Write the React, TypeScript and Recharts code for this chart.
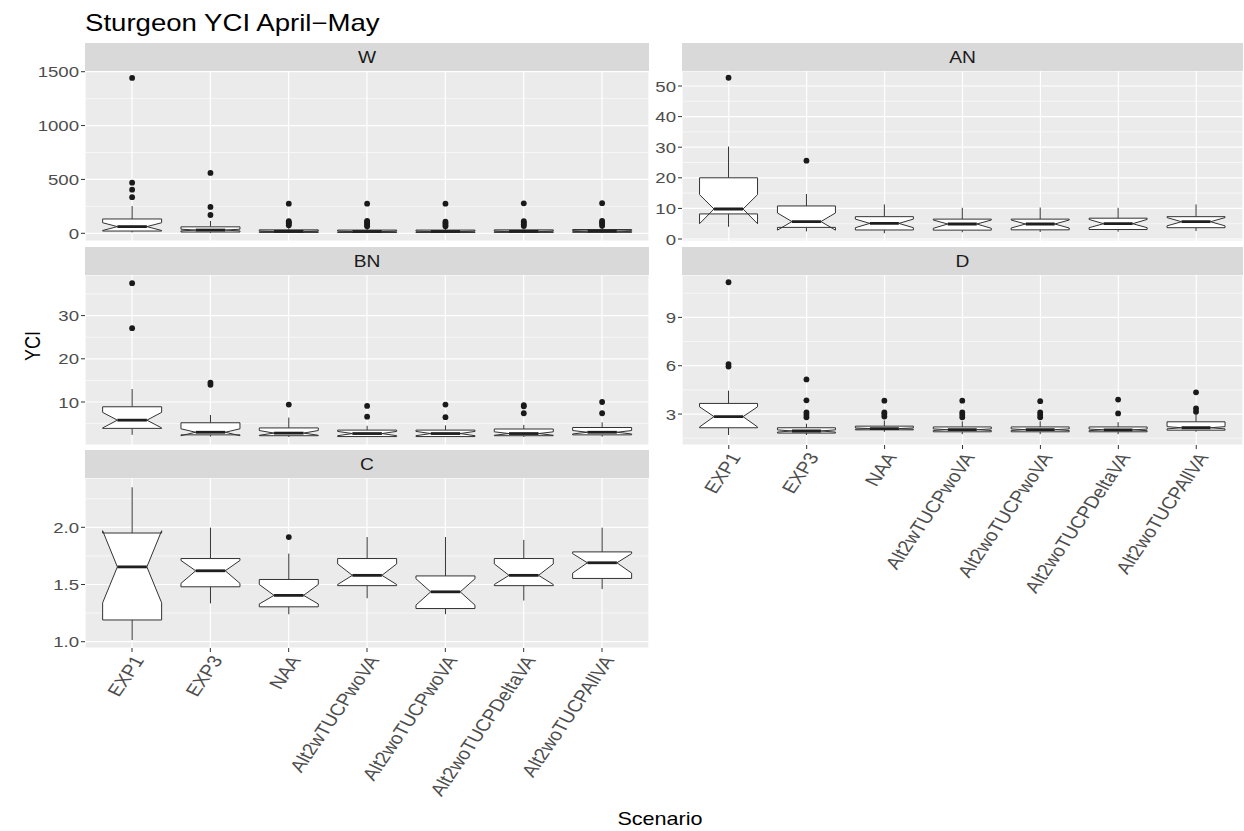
import React from 'react';
import { ComposedChart, Bar, XAxis, YAxis, CartesianGrid } from 'recharts';

const categories = ['EXP1', 'EXP3', 'NAA', 'Alt2wTUCPwoVA', 'Alt2woTUCPwoVA', 'Alt2woTUCPDeltaVA', 'Alt2woTUCPAllVA'];

// stats per category: [lowerWhisker, q1, notchLow, median, notchHigh, q3, upperWhisker]
const statsW = [
  [8, 21, 26, 62, 98, 133, 253],
  [4, 12, 22, 30, 38, 60, 115],
  [3, 8, 14, 18, 22, 32, 55],
  [3, 7, 13, 17, 21, 30, 52],
  [3, 7, 13, 17, 21, 30, 52],
  [3, 8, 14, 18, 22, 32, 55],
  [3, 9, 15, 20, 25, 35, 60],
];
const outliersW = [
  [335, 405, 470, 1442],
  [170, 245, 560],
  [75, 90, 100, 112, 275],
  [65, 78, 92, 105, 115, 275],
  [65, 80, 95, 108, 275],
  [68, 85, 100, 112, 278],
  [70, 88, 102, 115, 280],
];

const statsAN = [
  [4, 8.2, 5.0, 9.8, 14.5, 20, 30.2],
  [2.5, 3.8, 2.9, 5.7, 8.5, 10.8, 14.7],
  [1.9, 2.95, 3.7, 5.1, 6.5, 7.3, 11.3],
  [2.2, 2.9, 3.5, 4.9, 6.2, 6.5, 10.2],
  [2.3, 3.0, 3.6, 4.9, 6.2, 6.5, 10.3],
  [2.4, 3.1, 3.7, 5.0, 6.4, 6.8, 10.2],
  [2.6, 3.7, 4.3, 5.65, 7.0, 7.3, 11.3],
];
const outliersAN = [[52.7], [25.6], [], [], [], [], []];

const statsBN = [
  [2.4, 3.9, 4.0, 5.8, 7.6, 8.9, 13.0],
  [2.0, 2.4, 2.2, 3.0, 3.8, 5.2, 7.0],
  [1.9, 2.2, 2.3, 2.8, 3.4, 4.0, 6.4],
  [1.9, 2.0, 2.2, 2.7, 3.2, 3.5, 4.5],
  [1.9, 2.0, 2.2, 2.7, 3.2, 3.5, 4.6],
  [1.9, 2.2, 2.3, 2.7, 3.1, 3.75, 4.7],
  [2.0, 2.4, 2.6, 3.0, 3.4, 4.1, 5.3],
];
const outliersBN = [[27.1, 37.5], [14.0, 14.5], [9.4], [6.6, 9.1], [6.5, 9.4], [7.4, 9.0, 9.3], [7.4, 10.0]];

const statsD = [
  [1.7, 2.15, 2.2, 2.84, 3.45, 3.66, 4.45],
  [1.7, 1.82, 1.88, 1.95, 2.02, 2.15, 2.4],
  [1.9, 2.02, 2.06, 2.1, 2.14, 2.25, 2.6],
  [1.75, 1.9, 1.98, 2.03, 2.08, 2.2, 2.55],
  [1.75, 1.9, 1.98, 2.03, 2.08, 2.2, 2.55],
  [1.75, 1.9, 1.97, 2.02, 2.07, 2.2, 2.5],
  [1.9, 2.0, 2.08, 2.15, 2.22, 2.52, 3.0],
];
const outliersD = [
  [5.95, 6.1, 11.18],
  [2.8, 2.95, 3.1, 3.85, 5.15],
  [2.85, 3.0, 3.1, 3.83],
  [2.8, 2.95, 3.1, 3.83],
  [2.8, 2.95, 3.1, 3.8],
  [3.04, 3.9],
  [3.15, 3.35, 4.35],
];

const statsC = [
  [1.015, 1.19, 1.34, 1.654, 1.97, 1.95, 2.35],
  [1.335, 1.48, 1.51, 1.62, 1.71, 1.727, 1.997],
  [1.24, 1.305, 1.33, 1.405, 1.5, 1.544, 1.77],
  [1.38, 1.49, 1.5, 1.58, 1.68, 1.727, 1.915],
  [1.24, 1.29, 1.32, 1.436, 1.55, 1.575, 1.915],
  [1.36, 1.49, 1.5, 1.58, 1.68, 1.727, 1.89],
  [1.46, 1.553, 1.6, 1.69, 1.77, 1.785, 1.997],
];
const outliersC = [[], [], [1.915], [], [], [], []];

const ticksW = [0, 500, 1000, 1500];
const minorW = [250, 750, 1250];
const ticksAN = [0, 10, 20, 30, 40, 50];
const minorAN = [5, 15, 25, 35, 45];
const ticksBN = [10, 20, 30];
const minorBN = [5, 15, 25, 35];
const ticksD = [3, 6, 9];
const minorD = [1.5, 4.5, 7.5, 10.5];
const ticksC = [1.0, 1.5, 2.0];
const minorC = [1.25, 1.75, 2.25];

const SX = 1.2;
const FONT = '"Liberation Sans", Arial, sans-serif';
const PADV = 12;

function buildRows(stats: number[][], outs: number[][]) {
  return categories.map((c, i) => ({
    cat: c,
    lo: stats[i][0],
    q1: stats[i][1],
    nLo: stats[i][2],
    med: stats[i][3],
    nHi: stats[i][4],
    q3: stats[i][5],
    hi: stats[i][6],
    out: outs[i],
  }));
}

function BoxShape(props: any) {
  const { x, y, width, height, payload } = props;
  if (!payload) return null;
  const top = Math.min(y, y + height);
  const bot = Math.max(y, y + height);
  const { lo, hi, q1, q3, med, nLo, nHi, out } = payload;
  const py = (v: number) => bot - ((bot - top) * (v - lo)) / (hi - lo);
  const xmin = x;
  const xmax = x + width;
  const cx = x + width / 2;
  const inset = width * 0.25;
  const pts = [
    [xmin, py(q3)],
    [xmin, py(nHi)],
    [xmin + inset, py(med)],
    [xmin, py(nLo)],
    [xmin, py(q1)],
    [xmax, py(q1)],
    [xmax, py(nLo)],
    [xmax - inset, py(med)],
    [xmax, py(nHi)],
    [xmax, py(q3)],
  ]
    .map((p) => `${p[0]},${p[1]}`)
    .join(' ');
  return (
    <g>
      <line x1={cx} x2={cx} y1={py(hi)} y2={py(q3)} stroke="#333333" strokeWidth={1} />
      <line x1={cx} x2={cx} y1={py(q1)} y2={py(lo)} stroke="#333333" strokeWidth={1} />
      <polygon points={pts} fill="#ffffff" stroke="#333333" strokeWidth={1} />
      <line x1={xmin + inset} x2={xmax - inset} y1={py(med)} y2={py(med)} stroke="#1f1f1f" strokeWidth={2.8} />
      {(out as number[]).map((v, i) => (
        <circle key={i} cx={cx} cy={py(v)} r={2.9} fill="#1a1a1a" />
      ))}
    </g>
  );
}

const makeYTick = (digits: number) => (props: any) => {
  const { x, y, payload } = props;
  const label = digits > 0 ? Number(payload.value).toFixed(digits) : String(payload.value);
  return (
    <text
      transform={`translate(${x},${y}) scale(${SX},1)`}
      textAnchor="end"
      dy="0.36em"
      fill="#4D4D4D"
      fontSize={15.5}
      fontFamily={FONT}
    >
      {label}
    </text>
  );
};

const XTick = (props: any) => {
  const { x, y, payload } = props;
  return (
    <text
      transform={`translate(${x},${y}) scale(${SX},1) rotate(-60)`}
      textAnchor="end"
      dy="0.72em"
      fill="#4D4D4D"
      fontSize={17}
      fontFamily={FONT}
    >
      {payload.value}
    </text>
  );
};

type PanelProps = {
  left: number;
  top: number;
  plotLeft: number;
  plotRight: number;
  plotH: number;
  stats: number[][];
  outs: number[][];
  domain: [number, number];
  ticks: number[];
  minor: number[];
  digits: number;
  showX: boolean;
};

function Panel(p: PanelProps) {
  const data = buildRows(p.stats, p.outs);
  const width = p.plotRight - p.left + 2;
  const xH = p.showX ? 200 : 0;
  const plotW = p.plotRight - p.plotLeft;
  const unit = plotW / 7.2;
  const pad = unit * 0.1;
  const H = p.plotH + xH + PADV * 2;
  return (
    <div style={{ position: 'absolute', left: p.left, top: p.top - PADV, width, height: H }}>
      <ComposedChart
        width={width}
        height={H}
        data={data}
        margin={{ top: PADV, right: 2, bottom: PADV, left: 0 }}
        barCategoryGap="12.5%"
      >
        <CartesianGrid stroke="#ffffff" strokeWidth={1.2} fill="#EBEBEB" fillOpacity={1} />
        <CartesianGrid stroke="#ffffff" strokeWidth={0.6} vertical={false} horizontalValues={p.minor} />
        <XAxis
          dataKey="cat"
          type="category"
          hide={!p.showX}
          height={xH}
          padding={{ left: pad, right: pad }}
          interval={0}
          axisLine={false}
          tickLine={{ stroke: '#333333', strokeWidth: 1 }}
          tickSize={4}
          tickMargin={2}
          tick={<XTick />}
        />
        <YAxis
          type="number"
          domain={p.domain}
          allowDataOverflow
          ticks={p.ticks}
          width={p.plotLeft - p.left}
          axisLine={false}
          tickLine={{ stroke: '#333333', strokeWidth: 1 }}
          tickSize={4}
          tickMargin={2}
          tick={makeYTick(p.digits)}
          interval={0}
        />
        <Bar dataKey={(d: any) => [d.lo, d.hi]} shape={BoxShape} isAnimationActive={false} />
      </ComposedChart>
    </div>
  );
}

const L = { left: 0, plotLeft: 85, plotRight: 649 };
const R = { left: 640, plotLeft: 682, plotRight: 1243 };

function Strip({ x1, x2, y, label }: { x1: number; x2: number; y: number; label: string }) {
  const cx = (x1 + x2) / 2;
  return (
    <g>
      <rect x={x1} y={y} width={x2 - x1} height={28} fill="#D9D9D9" />
      <text
        transform={`translate(${cx},${y + 14}) scale(${SX},1)`}
        textAnchor="middle"
        dy="0.36em"
        fill="#1A1A1A"
        fontSize={16}
        fontFamily={FONT}
      >
        {label}
      </text>
    </g>
  );
}

export default function App() {
  return (
    <div
      style={{
        position: 'absolute',
        left: 0,
        top: 0,
        width: 1244,
        height: 831,
        background: '#ffffff',
        overflow: 'hidden',
      }}
    >
      <Panel {...L} top={71} plotH={170} stats={statsW} outs={outliersW} domain={[-71.5, 1506.6]} ticks={ticksW} minor={minorW} digits={0} showX={false} />
      <Panel {...L} top={275} plotH={170} stats={statsBN} outs={outliersBN} domain={[0.05, 39.4]} ticks={ticksBN} minor={minorBN} digits={0} showX={false} />
      <Panel {...L} top={478} plotH={170} stats={statsC} outs={outliersC} domain={[0.945, 2.431]} ticks={ticksC} minor={minorC} digits={1} showX={true} />
      <Panel {...R} top={71} plotH={170} stats={statsAN} outs={outliersAN} domain={[-0.65, 54.9]} ticks={ticksAN} minor={minorAN} digits={0} showX={false} />
      <Panel {...R} top={275} plotH={170} stats={statsD} outs={outliersD} domain={[1.08, 11.63]} ticks={ticksD} minor={minorD} digits={0} showX={true} />
      <svg
        width={1244}
        height={831}
        style={{ position: 'absolute', left: 0, top: 0, pointerEvents: 'none' }}
      >
        <text transform={`translate(85,31) scale(${SX},1)`} fill="#000000" fontSize={23} fontFamily={FONT}>
          Sturgeon YCI April−May
        </text>
        <Strip x1={85} x2={649} y={43} label="W" />
        <Strip x1={682} x2={1243} y={43} label="AN" />
        <Strip x1={85} x2={649} y={247} label="BN" />
        <Strip x1={682} x2={1243} y={247} label="D" />
        <Strip x1={85} x2={649} y={450} label="C" />
        <text
          transform={`translate(660,825) scale(${SX},1)`}
          textAnchor="middle"
          fill="#000000"
          fontSize={18}
          fontFamily={FONT}
        >
          Scenario
        </text>
        <text
          transform={`translate(32,346) scale(${SX},1) rotate(-90)`}
          textAnchor="middle"
          dy="0.36em"
          fill="#000000"
          fontSize={18}
          fontFamily={FONT}
        >
          YCI
        </text>
      </svg>
    </div>
  );
}
